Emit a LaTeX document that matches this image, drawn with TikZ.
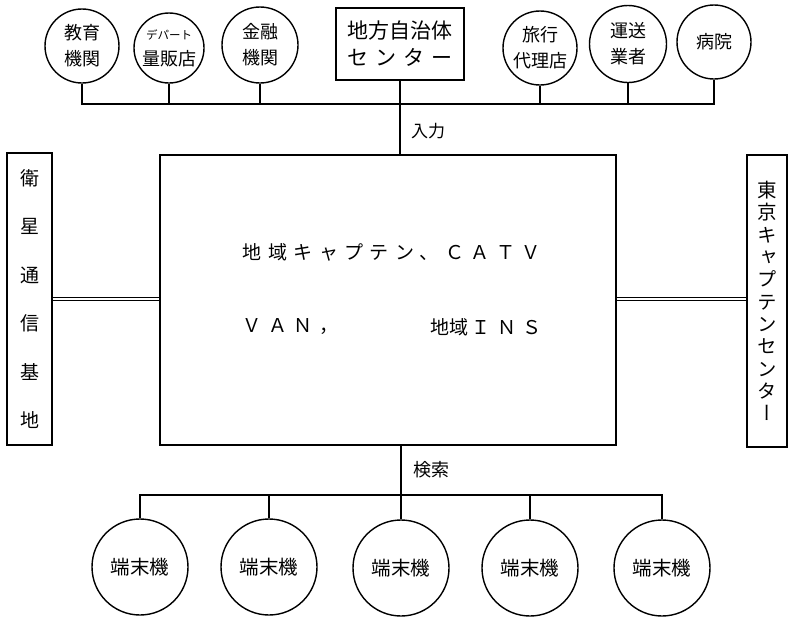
\documentclass[tikz,border=0pt]{standalone}
\usepackage{fontspec}
\setmainfont{Noto Sans CJK JP}
\newfontfamily\vjp[RawFeature=+vert]{Noto Sans CJK JP}
\newfontfamily\spjp[LetterSpace=34]{Noto Sans CJK JP}
\begin{document}
\begin{tikzpicture}[x=1pt,y=-1pt,line width=1.4pt,
  org/.style={circle,draw,minimum size=74pt,inner sep=0pt,align=center,
    font=\fontsize{18}{26}\selectfont},
  term/.style={circle,draw,minimum size=96pt,inner sep=0pt,
    font=\fontsize{19.5}{21}\selectfont},
  sidebox/.style={draw,inner sep=0pt,align=center},
  lbl/.style={inner sep=0pt,font=\fontsize{17}{19}\selectfont},
  maintext/.style={inner sep=0pt,anchor=west,font=\fontsize{19}{21}\spjp},
  dbl/.style={double,double distance=1.6pt,line width=0.9pt}]
\useasboundingbox (0,0) rectangle (788,619);

% top row
\node[org] (edu) at (82,46) {教育\\機関};
\node[org,minimum size=70pt] (dept) at (169,48) {{\fontsize{11.5}{12}\selectfont デパート}\\量販店};
\node[org,minimum size=76pt] (fin) at (260,45) {金融\\機関};
\node[draw,minimum width=128pt,minimum height=72pt,inner sep=0pt,align=center,
  font=\fontsize{21}{27}\selectfont] (local) at (400,44)
  {地方自治体\\\makebox[5em][s]{セ\hfill ン\hfill タ\hfill ー}};
\node[org] (trav) at (540,48) {旅行\\代理店};
\node[org,minimum size=77pt] (trans) at (628,44) {運送\\業者};
\node[org] (hosp) at (714,42) {病院};

\coordinate (bus) at (82,104);
\draw (edu.south) |- (hosp.south |- bus) -- (hosp.south);
\foreach \n in {dept,fin,trav,trans}
  \draw (\n.south) -- (\n.south |- bus);

% main box
\node[draw,minimum width=456pt,minimum height=290pt,inner sep=0pt] (main) at (388,300) {};
\node[maintext] (l1) at (242,252) {地域キャプテン、ＣＡＴＶ};
\node[maintext] (l2) at (242,327) {ＶＡＮ，};
\node[maintext] (l3) at (430,327) {{\fontsize{19}{21}\rmfamily 地域}\hspace{3pt}ＩＮＳ};

\draw (local.south) -- (local.south |- main.north);
\node[lbl] (in) at (428,131) {入力};

% side boxes
\node[sidebox,minimum width=45pt,minimum height=292pt,
  font=\fontsize{19}{48.5}\selectfont] (sat) at (29.5,299)
  {衛\\星\\通\\信\\基\\地};
\node[sidebox,minimum width=40pt,minimum height=292pt,
  font=\fontsize{19.5}{22.3}\vjp] (tokyo) at (767,301)
  {東\\京\\キ\\ャ\\プ\\テ\\ン\\セ\\ン\\タ\\ー};
\draw[dbl] (sat.east) -- (sat.east -| main.west);
\draw[dbl] (main.east |- 0,299) -- (tokyo.west |- 0,299);

% bottom terminals
\node[term] (t1) at (140,567) {端末機};
\node[term] (t2) at (269,567) {端末機};
\node[term] (t3) at (401,568) {端末機};
\node[term] (t4) at (530,568) {端末機};
\node[term] (t5) at (662,568) {端末機};
\coordinate (bbus) at (140,495);
\draw (t3.north |- main.south) -- (t3.north);
\draw (t1.north) |- (t5.north |- bbus) -- (t5.north);
\foreach \n in {t2,t4}
  \draw (\n.north) -- (\n.north |- bbus);
\node[lbl,font=\fontsize{18}{20}\selectfont] (search) at (431,470) {検索};
\end{tikzpicture}
\end{document}
